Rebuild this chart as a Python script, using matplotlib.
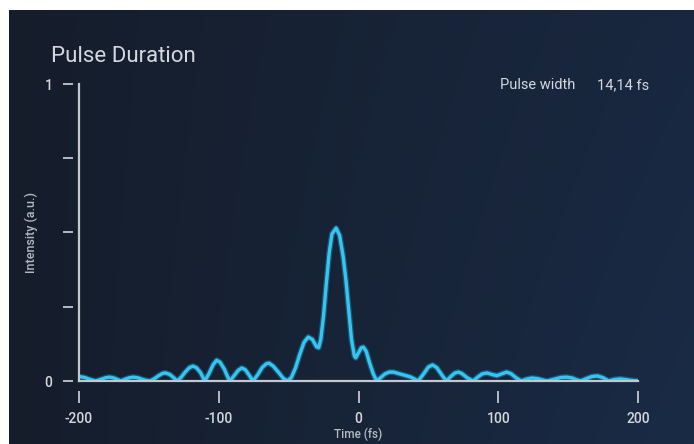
import numpy as np
import matplotlib.pyplot as plt
from matplotlib.colors import to_rgb

# Autocorrelation trace (time in fs, normalised intensity)
time_fs = [
    -200, -196, -192, -188, -184, -181, -178, -175, -172, -170,
    -167, -164, -161, -158, -155, -152, -149, -146, -143, -140,
    -138, -135, -132, -130, -127, -124, -121, -118.5, -116, -113,
    -110, -107, -104, -101.5, -99, -96, -94, -92, -89, -86,
    -83.5, -81, -78, -75.5, -72, -69, -66, -64, -61, -57,
    -54, -51, -48, -45, -42, -39, -36, -33, -30, -28.5,
    -27, -25, -23, -21, -19, -16, -13.5, -11, -9, -7,
    -5, -3, -2, 0, 2, 3.5, 5.5, 8, 10.5, 13,
    16, 19, 22, 25, 28, 31, 34, 37, 40, 42.5,
    46, 50, 53, 56, 60, 63, 66, 69, 71.5, 74,
    78, 82, 85, 88.5, 92, 95.5, 99, 102.5, 106, 109,
    113, 116.5, 120, 124, 128, 132, 135, 140, 145, 149,
    153, 156, 159, 163, 167, 171, 175, 179, 183, 187,
    191, 195, 200,
]
intensity = [
    0.015, 0.012, 0.005, 0.0, 0.006, 0.011, 0.013, 0.010, 0.004, 0.0,
    0.006, 0.011, 0.013, 0.011, 0.006, 0.002, 0.0, 0.008, 0.018, 0.026,
    0.027, 0.022, 0.010, 0.0, 0.012, 0.030, 0.045, 0.050, 0.045, 0.028,
    0.0, 0.025, 0.055, 0.070, 0.063, 0.040, 0.018, 0.0, 0.018, 0.036,
    0.044, 0.038, 0.018, 0.0, 0.022, 0.045, 0.058, 0.060, 0.050, 0.028,
    0.010, 0.0, 0.012, 0.045, 0.090, 0.130, 0.148, 0.140, 0.115, 0.112,
    0.140, 0.220, 0.330, 0.430, 0.495, 0.515, 0.490, 0.420, 0.340, 0.240,
    0.140, 0.085, 0.078, 0.095, 0.112, 0.114, 0.100, 0.060, 0.025, 0.0,
    0.012, 0.024, 0.030, 0.030, 0.026, 0.022, 0.018, 0.014, 0.007, 0.0,
    0.020, 0.047, 0.054, 0.045, 0.018, 0.0, 0.015, 0.027, 0.030, 0.025,
    0.010, 0.0, 0.012, 0.024, 0.027, 0.022, 0.018, 0.024, 0.030, 0.025,
    0.010, 0.0, 0.006, 0.010, 0.008, 0.003, 0.0, 0.006, 0.012, 0.013,
    0.010, 0.004, 0.0, 0.008, 0.015, 0.017, 0.011, 0.0, 0.005, 0.007,
    0.005, 0.002, 0.0,
]

x_ticks = [-200, -100, 0, 100, 200]
x_tick_labels = ['-200', '-100', '0', '100', '200']
y_ticks = [0, 0.25, 0.5, 0.75, 1]
y_tick_labels = ['0', '', '', '', '1']
pulse_width_fs = '14,14'

plt.rcParams['font.family'] = ['Roboto', 'DejaVu Sans']

LINE = '#33c6f3'
AXIS = '#c3c7ce'
TEXT = '#d4d8de'
MUTED = '#b5bac3'

fig = plt.figure(figsize=(6.94, 4.44), dpi=100, facecolor='white')

# dark panel with a soft left-to-right gradient
bg = fig.add_axes([9 / 694, 0, 685 / 694, 434 / 444])
c_left = np.array(to_rgb('#151d2b'))
c_right = np.array(to_rgb('#1a2b46'))
gx = np.linspace(0, 1, 300)[None, :, None]
gy = np.linspace(0, 1, 200)[:, None, None]
grad = c_left + (c_right - c_left) * (0.75 * gx + 0.25 * gx * gy)
bg.imshow(grad, aspect='auto', extent=[0, 1, 0, 1], origin='upper')
bg.set_axis_off()

ax = fig.add_axes([79 / 694, 63 / 444, 559 / 694, 297 / 444])
ax.set_facecolor('none')

# soft glow under the trace
ax.plot(time_fs, intensity, color=LINE, lw=4.2, alpha=0.3,
        solid_joinstyle='round', solid_capstyle='round', zorder=2)
ax.plot(time_fs, intensity, color=LINE, lw=2.4,
        solid_joinstyle='round', solid_capstyle='round', zorder=3)

ax.set_xlim(-200, 200)
ax.set_ylim(0, 1)

# axis lines drawn separately so the tick marks can sit detached from them
ax.axhline(0, color=AXIS, lw=1.6, zorder=4, clip_on=False)
ax.axvline(-200, color=AXIS, lw=1.6, zorder=4, clip_on=False)
for side in ['top', 'right']:
    ax.spines[side].set_visible(False)
ax.spines['bottom'].set_position(('outward', 7))
ax.spines['left'].set_position(('outward', 4))
ax.spines['bottom'].set_color('none')
ax.spines['left'].set_color('none')

ax.set_xticks(x_ticks)
ax.set_xticklabels(x_tick_labels, fontweight='medium')
ax.set_yticks(y_ticks)
ax.set_yticklabels(y_tick_labels, fontweight='medium')
ax.tick_params(axis='x', direction='out', length=8.5, width=1.3, color=AXIS,
               labelcolor=TEXT, labelsize=10, pad=7)
ax.tick_params(axis='y', direction='out', length=7, width=1.3, color=AXIS,
               labelcolor=TEXT, labelsize=10, pad=8)

ax.set_xlabel('Time (fs)', color=MUTED, fontsize=8.5, fontweight='medium',
              labelpad=1)
ax.set_ylabel('Intensity (a.u.)', color=MUTED, fontsize=9, fontweight='medium',
              labelpad=5)

fig.text(51 / 694, 1 - 62 / 444, 'Pulse Duration', color=TEXT, fontsize=16,
         ha='left', va='baseline')
fig.text(500 / 694, 1 - 89 / 444, 'Pulse width', color=TEXT, fontsize=10.5,
         ha='left', va='baseline')
fig.text(649 / 694, 1 - 89 / 444, f'{pulse_width_fs} fs', color=TEXT,
         fontsize=10.5, ha='right', va='baseline')

fig.savefig('out.png', dpi=100, facecolor=fig.get_facecolor())
